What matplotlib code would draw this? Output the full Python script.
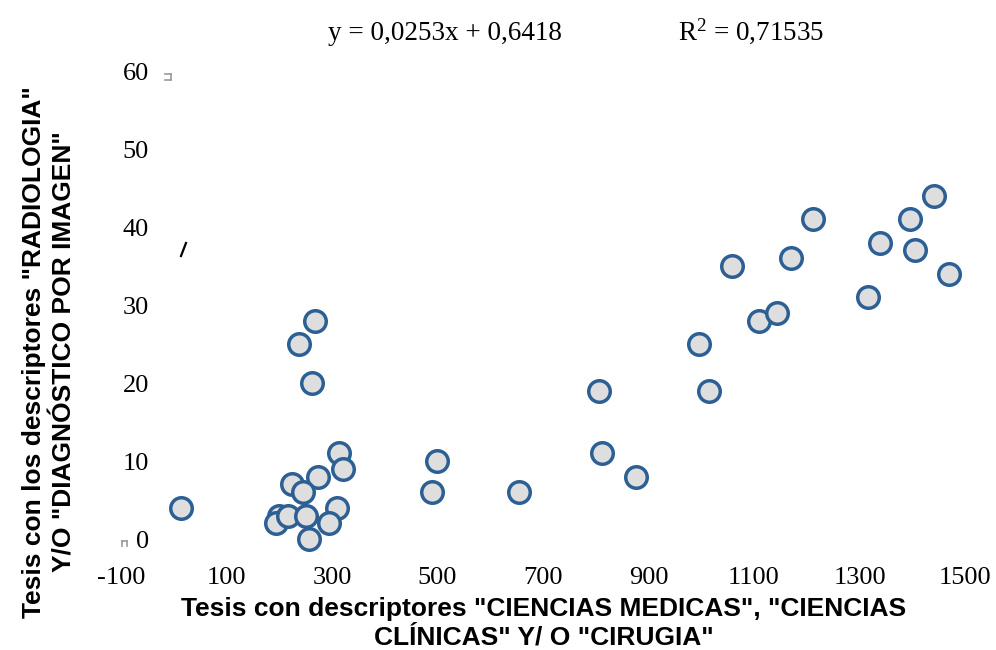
import matplotlib
matplotlib.use("Agg")
import matplotlib.pyplot as plt
from matplotlib.lines import Line2D

# Tesis con descriptores de ciencias médicas / clínicas / cirugía (x)
# frente a tesis de radiología / diagnóstico por imagen (y)
x_medicas = [13, 313, 320, 273, 224, 245, 309, 199, 193, 216, 250, 294, 256,
             267, 237, 262,
             489, 499, 654,
             806, 1014, 811, 876,
             995, 1058, 1109, 1143, 1170, 1211, 1316, 1338, 1395, 1405, 1441, 1469]
y_radiologia = [4, 11, 9, 8, 7, 6, 4, 3, 2, 3, 3, 2, 0,
                28, 25, 20,
                6, 10, 6,
                19, 19, 11, 8,
                25, 35, 28, 29, 36, 41, 31, 38, 41, 37, 44, 34]

x_ticks = [-100, 100, 300, 500, 700, 900, 1100, 1300, 1500]
y_ticks = [0, 10, 20, 30, 40, 50, 60]

equation = "y = 0,0253x + 0,6418"
r_squared = "R$^2$ = 0,71535"

x_title = 'Tesis con descriptores "CIENCIAS MEDICAS", "CIENCIAS\nCLÍNICAS" Y/ O "CIRUGIA"'
y_title = 'Tesis con los descriptores "RADIOLOGIA"\nY/O "DIAGNÓSTICO POR IMAGEN"'

W, H = 996, 650
SERIF = ["Liberation Serif", "DejaVu Serif"]
SANS = ["Liberation Sans", "DejaVu Sans"]

plt.rcParams["axes.unicode_minus"] = False
plt.rcParams["mathtext.fontset"] = "custom"
plt.rcParams["mathtext.rm"] = "Liberation Serif"
plt.rcParams["mathtext.it"] = "Liberation Serif:italic"

fig = plt.figure(figsize=(W / 100, H / 100), dpi=100)
fig.patch.set_facecolor("white")


def px(xp, yp):
    return xp / W, 1 - yp / H


left, bottom = px(121, 539)
right, top = px(965, 71)
ax = fig.add_axes([left, bottom, right - left, top - bottom])

ax.scatter(x_medicas, y_radiologia, s=15.5 ** 2, facecolor="#DEDEDE",
           edgecolor="#2C5F94", linewidths=2.5, zorder=3, clip_on=False)

ax.set_xlim(-100, 1500)
ax.set_ylim(0, 60)
ax.set_xticks(x_ticks)
ax.set_yticks(y_ticks)
for s in ax.spines.values():
    s.set_visible(False)
ax.tick_params(axis="both", length=0, labelsize=19)
ax.tick_params(axis="x", pad=20)
ax.tick_params(axis="y", pad=-20)
for lab in ax.get_xticklabels() + ax.get_yticklabels():
    lab.set_family(SERIF)

# equation and fit quality above the plot
fig.text(*px(445, 33), equation, ha="center", va="center",
         fontsize=19.5, family=SERIF)
fig.text(*px(751, 31), r_squared, ha="center", va="center",
         fontsize=19.5, family=SERIF)

# axis titles
fig.text(*px(544, 623), x_title, ha="center", va="center", fontsize=19,
         fontweight="bold", family=SANS, linespacing=1.25)
fig.text(*px(49, 352), y_title, ha="center", va="center", rotation=90,
         fontsize=19, fontweight="bold", family=SANS, linespacing=1.32)

# small selection handles left around the plot area
grey = "#9A9A9A"
for seg in [((165, 74), (171, 74)), ((171, 74), (171, 80)), ((171, 80), (165, 80)),
            ((122, 546), (122, 541)), ((122, 541), (127, 541)), ((127, 541), (127, 546))]:
    (x0, y0), (x1, y1) = seg
    fig.add_artist(Line2D([x0 / W, x1 / W], [1 - y0 / H, 1 - y1 / H],
                          color=grey, lw=1.2, transform=fig.transFigure))
fig.add_artist(Line2D([181 / W, 186 / W], [1 - 256 / H, 1 - 243 / H],
                      color="black", lw=1.6, transform=fig.transFigure))

fig.savefig("out.png", dpi=100, facecolor="white")
